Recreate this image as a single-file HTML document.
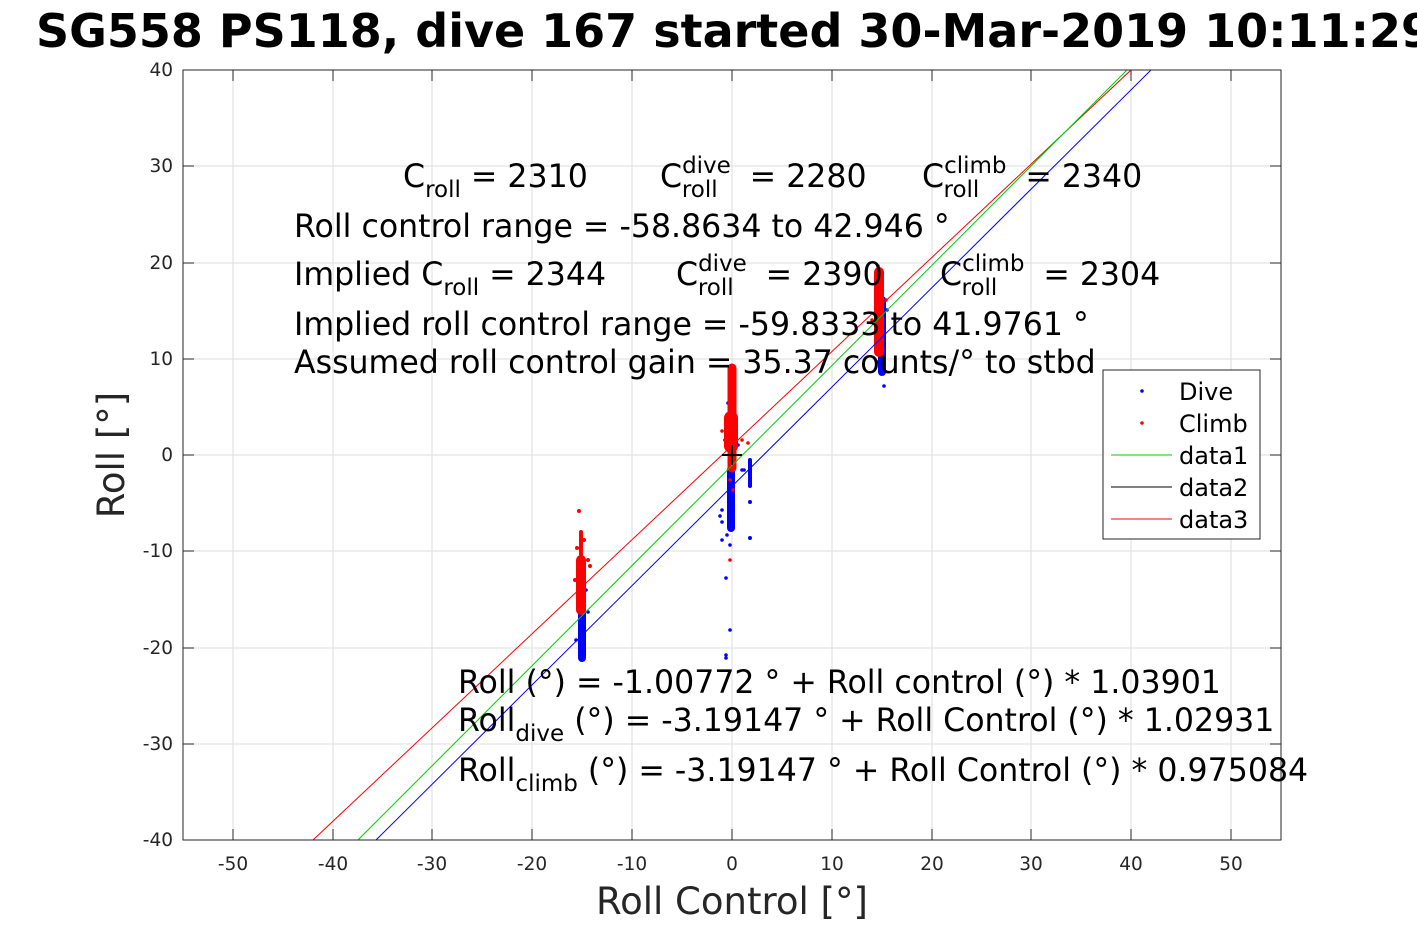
<!DOCTYPE html><html><head><meta charset="utf-8"><style>body{margin:0;background:#fff}svg{font-family:"DejaVu Sans","Liberation Sans",sans-serif}</style></head><body>
<svg width="1417" height="945" xmlns="http://www.w3.org/2000/svg">
<rect width="1417" height="945" fill="#fff"/>
<g stroke="#dedede" stroke-width="1">
<line x1="233" y1="70" x2="233" y2="840"/><line x1="333" y1="70" x2="333" y2="840"/><line x1="432" y1="70" x2="432" y2="840"/><line x1="532" y1="70" x2="532" y2="840"/><line x1="632" y1="70" x2="632" y2="840"/><line x1="732" y1="70" x2="732" y2="840"/><line x1="832" y1="70" x2="832" y2="840"/><line x1="932" y1="70" x2="932" y2="840"/><line x1="1031" y1="70" x2="1031" y2="840"/><line x1="1131" y1="70" x2="1131" y2="840"/><line x1="1231" y1="70" x2="1231" y2="840"/>
<line x1="183" y1="166" x2="1281" y2="166"/><line x1="183" y1="263" x2="1281" y2="263"/><line x1="183" y1="359" x2="1281" y2="359"/><line x1="183" y1="455" x2="1281" y2="455"/><line x1="183" y1="551" x2="1281" y2="551"/><line x1="183" y1="648" x2="1281" y2="648"/><line x1="183" y1="744" x2="1281" y2="744"/>
</g>
<g stroke-linecap="round" fill="none">
<path stroke="#00f" stroke-width="8" d="M731 470 V528"/>
<path stroke="#00f" stroke-width="3.6" d="M725 440 h0 M738 445 h0 M722 510 h0 M720 516 h0 M722 522 h0 M727 535 h0 M730 545 h0 M726 578 h0 M730 630 h0 M726 655 h0 M726 658 h0 M742 470 h0 M744 470 h0 M728 403 h0 M722 540 h0"/>
<path stroke="#00f" stroke-width="4" d="M750 460 V486 M750 502 h0 M750 538 h0"/>
<path stroke="#f00" stroke-width="9" d="M732 368 V468"/>
<path stroke="#f00" stroke-width="14" d="M731 418 V446"/>
<path stroke="#f00" stroke-width="3.6" d="M742 440 h0 M748 443 h0 M722 431 h0 M730 480 h0 M733 490 h0 M730 560 h0"/>
<path stroke="#00f" stroke-width="8" d="M882 300 V372"/>
<path stroke="#00f" stroke-width="3.6" d="M884 386 h0 M877 362 h0 M887 310 h0"/>
<path stroke="#f00" stroke-width="10" d="M879 272 V352"/>
<path stroke="#f00" stroke-width="3.6" d="M878 266 h0 M872 320 h0 M886 300 h0"/>
<path stroke="#00f" stroke-width="8" d="M582 600 V658"/>
<path stroke="#00f" stroke-width="3.6" d="M586 590 h0 M576 640 h0 M588 612 h0"/>
<path stroke="#f00" stroke-width="10" d="M581 560 V610"/>
<path stroke="#f00" stroke-width="4" d="M581 532 V556 M579 511 h0 M588 560 h0 M575 580 h0 M584 540 h0 M577 548 h0 M590 566 h0"/>
</g>
<line x1="313" y1="840" x2="1131" y2="70" stroke="#f00" stroke-width="1"/>
<line x1="358" y1="840" x2="1127" y2="70" stroke="#0c0" stroke-width="1"/>
<line x1="376" y1="840" x2="1151" y2="70" stroke="#00f" stroke-width="1"/>
<line x1="722" y1="455" x2="742" y2="455" stroke="#000" stroke-width="2"/>
<line x1="732" y1="445" x2="732" y2="465" stroke="#000" stroke-width="2"/>
<rect x="183" y="70" width="1098" height="770" fill="none" stroke="#262626" stroke-width="1"/>
<g stroke="#262626">
<path d="M233 840v-11M333 840v-11M432 840v-11M532 840v-11M632 840v-11M732 840v-11M832 840v-11M932 840v-11M1031 840v-11M1131 840v-11M1231 840v-11M233 70v11M333 70v11M432 70v11M532 70v11M632 70v11M732 70v11M832 70v11M932 70v11M1031 70v11M1131 70v11M1231 70v11"/>
<path d="M183 70h11M183 166h11M183 263h11M183 359h11M183 455h11M183 551h11M183 648h11M183 744h11M183 840h11M1281 70h-11M1281 166h-11M1281 263h-11M1281 359h-11M1281 455h-11M1281 551h-11M1281 648h-11M1281 744h-11M1281 840h-11"/>
</g>
<g font-size="18.5" fill="#262626" text-anchor="middle">
<text x="233" y="870">-50</text><text x="333" y="870">-40</text><text x="432" y="870">-30</text><text x="532" y="870">-20</text><text x="632" y="870">-10</text><text x="732" y="870">0</text><text x="832" y="870">10</text><text x="932" y="870">20</text><text x="1031" y="870">30</text><text x="1131" y="870">40</text><text x="1231" y="870">50</text>
</g>
<g font-size="18.5" fill="#262626" text-anchor="end">
<text x="173" y="76">40</text><text x="173" y="172">30</text><text x="173" y="269">20</text><text x="173" y="365">10</text><text x="173" y="461">0</text><text x="173" y="557">-10</text><text x="173" y="654">-20</text><text x="173" y="750">-30</text><text x="173" y="846">-40</text>
</g>
<text x="36" y="47" font-size="46" font-weight="bold" fill="#000">SG558 PS118, dive 167 started 30-Mar-2019 10:11:29</text>
<text x="732" y="914" font-size="37" text-anchor="middle" fill="#262626">Roll Control [°]</text>
<text transform="translate(124,455) rotate(-90)" font-size="37" text-anchor="middle" fill="#262626">Roll [°]</text>
<g font-size="31.6" fill="#000">
<text x="403" y="187">C<tspan font-size="23" dy="10">roll</tspan><tspan dy="-10"> = 2310</tspan></text>
<text x="660" y="187">C<tspan font-size="23" dy="-14">dive</tspan><tspan font-size="23" dx="-49" dy="24">roll</tspan><tspan dy="-10" dx="22"> = 2280</tspan></text>
<text x="922" y="187">C<tspan font-size="23" dy="-14">climb</tspan><tspan font-size="23" dx="-63" dy="24">roll</tspan><tspan dy="-10" dx="46">= 2340</tspan></text>
<text x="294" y="237">Roll control range = -58.8634 to 42.946 °</text>
<text x="294" y="285">Implied C<tspan font-size="23" dy="10">roll</tspan><tspan dy="-10"> = 2344</tspan></text>
<text x="676" y="285">C<tspan font-size="23" dy="-14">dive</tspan><tspan font-size="23" dx="-49" dy="24">roll</tspan><tspan dy="-10" dx="22"> = 2390</tspan></text>
<text x="940" y="285">C<tspan font-size="23" dy="-14">climb</tspan><tspan font-size="23" dx="-63" dy="24">roll</tspan><tspan dy="-10" dx="46">= 2304</tspan></text>
<text x="294" y="335">Implied roll control range = -59.8333 to 41.9761 °</text>
<text x="294" y="373">Assumed roll control gain = 35.37 counts/° to stbd</text>
<text x="458" y="693">Roll (°) = -1.00772 ° + Roll control (°) * 1.03901</text>
<text x="458" y="731">Roll<tspan font-size="23" dy="10">dive</tspan><tspan dy="-10"> (°) = -3.19147 ° + Roll Control (°) * 1.02931</tspan></text>
<text x="458" y="781">Roll<tspan font-size="23" dy="10">climb</tspan><tspan dy="-10"> (°) = -3.19147 ° + Roll Control (°) * 0.975084</tspan></text>
</g>
<rect x="1103" y="370" width="157" height="169" fill="#fff" stroke="#262626"/>
<circle cx="1142" cy="391" r="1.8" fill="#00f"/><circle cx="1142" cy="423" r="1.8" fill="#f00"/>
<line x1="1111" y1="455" x2="1172" y2="455" stroke="#0c0"/>
<line x1="1111" y1="487" x2="1172" y2="487" stroke="#000"/>
<line x1="1111" y1="519" x2="1172" y2="519" stroke="#f00"/>
<g font-size="24" fill="#000"><text x="1179" y="400">Dive</text><text x="1179" y="432">Climb</text><text x="1179" y="464">data1</text><text x="1179" y="496">data2</text><text x="1179" y="528">data3</text></g>
</svg></body></html>
